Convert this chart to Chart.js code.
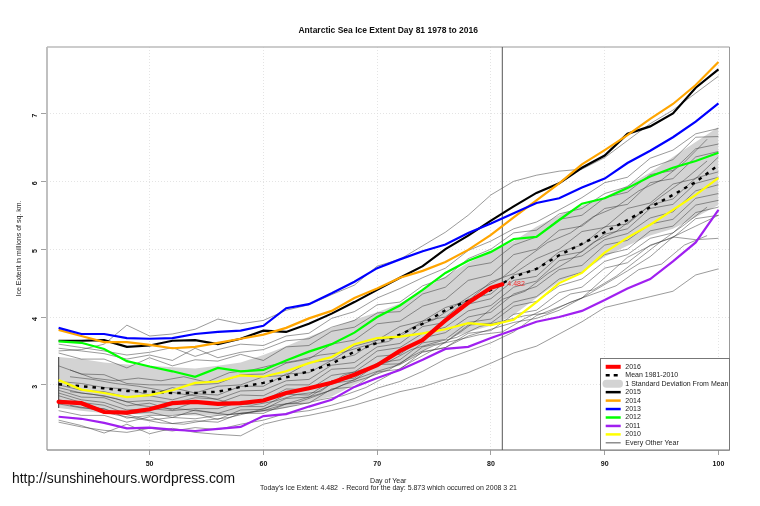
<!DOCTYPE html>
<html><head><meta charset="utf-8">
<style>html,body{margin:0;padding:0;background:#fff}#w{width:760px;height:506px}</style>
<script src="https://cdn.jsdelivr.net/npm/chart.js@4"></script>
</head><body><div id="w"><canvas id="c" width="760" height="506"></canvas></div>
<script>
const days=[42,44,46,48,50,52,54,56,58,60,62,64,66,68,70,72,74,76,78,80,82,84,86,88,90,92,94,96,98,100];
const oddDays=[43,45,47,49,51,53,55,57,59,61,63,65,67,69,71,73,75,77,79,81,83,85,87,89,91,93,95,97,99];
const days2016=[42,44,46,48,50,52,54,56,58,60,62,64,66,68,70,72,74,76,78,80,81];
const xTicks=[50,60,70,80,90,100], yTicks=[3,4,5,6,7];
const y2016=[2.75,2.73,2.60,2.59,2.64,2.73,2.75,2.72,2.73,2.77,2.88,2.95,3.03,3.15,3.29,3.50,3.66,3.95,4.21,4.43,4.482];
const meanLine=[3.01,2.98,2.95,2.91,2.90,2.88,2.88,2.90,2.97,3.03,3.11,3.20,3.31,3.49,3.62,3.74,3.90,4.10,4.24,4.40,4.59,4.71,4.91,5.08,5.25,5.43,5.62,5.80,5.99,6.24];
const bandUpper=[3.41,3.38,3.33,3.30,3.28,3.26,3.24,3.28,3.33,3.44,3.57,3.71,3.84,3.96,4.07,4.20,4.40,4.60,4.80,4.96,5.12,5.33,5.50,5.64,5.77,5.94,6.13,6.36,6.58,6.80];
const bandLower=[2.66,2.62,2.58,2.57,2.56,2.56,2.55,2.55,2.57,2.60,2.66,2.75,2.83,3.00,3.16,3.29,3.50,3.68,3.78,3.87,4.03,4.28,4.52,4.66,4.89,5.05,5.20,5.30,5.47,5.65];
const y2015=[3.65,3.65,3.66,3.56,3.58,3.65,3.66,3.60,3.68,3.80,3.78,3.90,4.05,4.22,4.40,4.58,4.75,5.00,5.20,5.42,5.63,5.83,5.97,6.20,6.38,6.70,6.81,7.00,7.38,7.65];
const y2014=[3.81,3.72,3.63,3.63,3.59,3.54,3.56,3.62,3.68,3.74,3.84,3.98,4.09,4.28,4.42,4.58,4.68,4.81,4.99,5.21,5.47,5.72,5.97,6.25,6.46,6.68,6.92,7.14,7.42,7.76];
const y2013=[3.84,3.75,3.75,3.69,3.68,3.69,3.75,3.78,3.80,3.87,4.13,4.19,4.35,4.52,4.72,4.85,4.97,5.07,5.24,5.38,5.53,5.68,5.75,5.91,6.04,6.27,6.45,6.65,6.88,7.15];
const y2012=[3.64,3.62,3.53,3.35,3.27,3.20,3.12,3.25,3.20,3.22,3.36,3.49,3.60,3.77,4.00,4.17,4.40,4.65,4.83,4.96,5.15,5.18,5.43,5.67,5.75,5.90,6.07,6.20,6.30,6.42];
const y2011=[2.53,2.50,2.44,2.36,2.37,2.34,2.32,2.35,2.38,2.54,2.57,2.68,2.78,2.97,3.10,3.22,3.37,3.53,3.56,3.69,3.81,3.93,4.00,4.09,4.25,4.42,4.56,4.82,5.10,5.58];
const y2010=[3.07,2.93,2.88,2.82,2.85,2.92,3.03,3.05,3.14,3.12,3.20,3.32,3.41,3.60,3.69,3.71,3.76,3.82,3.91,3.88,3.96,4.22,4.50,4.65,4.95,5.17,5.36,5.58,5.80,6.05];
const otherA=[3.50,3.52,3.60,3.88,3.72,3.75,3.82,3.97,3.90,3.95,4.10,4.18,4.33,4.47,4.75,4.85,5.05,5.25,5.50,5.80,6.00,6.09,6.15,6.18,6.35,6.60,6.85,7.05,7.30,7.55];
const otherB=[2.48,2.40,2.29,2.42,2.28,2.36,2.30,2.27,2.25,2.42,2.50,2.55,2.62,2.70,2.80,2.90,2.97,3.08,3.18,3.32,3.47,3.57,3.75,3.93,4.14,4.22,4.30,4.38,4.62,4.71];
const otherC=[2.45,2.38,2.33,2.30,2.36,2.32,2.37,2.34,2.42,2.48,2.58,2.62,2.70,2.80,2.95,3.05,3.20,3.38,3.50,3.62,3.78,4.02,4.15,4.28,4.48,4.68,4.89,5.18,5.14,5.16];
const otherD=[3.60,3.55,3.50,3.44,3.48,3.55,3.42,3.52,3.60,3.58,3.72,3.76,3.98,4.08,4.28,4.42,4.58,4.72,4.98,5.12,5.30,5.40,5.58,5.76,5.98,6.06,6.34,6.46,6.70,6.78];
const otherE=[3.54,3.50,3.46,3.38,3.44,3.36,3.54,3.40,3.48,3.52,3.65,3.68,3.85,3.95,4.18,4.22,4.46,4.58,4.86,5.00,5.24,5.28,5.52,5.60,5.82,5.92,6.20,6.32,6.65,6.66];
const otherF=[3.47,3.38,3.38,3.25,3.40,3.28,3.37,3.35,3.45,3.36,3.56,3.58,3.79,3.85,4.06,4.08,4.34,4.44,4.74,4.80,5.06,5.18,5.44,5.50,5.76,5.84,6.10,6.16,6.48,6.55];
const otherG=[3.28,3.16,3.15,3.02,3.00,3.00,3.00,3.02,3.15,3.16,3.32,3.38,3.60,3.66,3.90,3.94,4.16,4.26,4.54,4.62,4.92,5.00,5.28,5.34,5.60,5.66,5.98,6.04,6.36,6.44];
const otherH=[3.05,3.02,2.96,2.94,2.85,2.96,2.88,2.98,3.00,3.12,3.14,3.33,3.36,3.57,3.66,3.86,3.94,4.14,4.24,4.52,4.64,4.86,5.00,5.26,5.32,5.60,5.68,5.96,6.04,6.36];
const otherI=[3.00,2.92,2.90,2.82,2.84,2.78,2.87,2.85,2.98,2.98,3.16,3.18,3.36,3.44,3.66,3.71,3.94,4.00,4.26,4.34,4.62,4.70,4.96,5.06,5.33,5.37,5.65,5.74,6.05,6.14];
const otherJ=[2.96,2.88,2.84,2.75,2.77,2.73,2.81,2.79,2.91,2.92,3.06,3.08,3.29,3.33,3.56,3.61,3.86,3.92,4.19,4.27,4.54,4.60,4.90,4.96,5.22,5.30,5.60,5.66,5.97,6.06];
const otherK=[2.92,2.82,2.81,2.69,2.73,2.63,2.75,2.73,2.85,2.84,3.00,3.00,3.23,3.25,3.50,3.55,3.76,3.85,4.09,4.17,4.44,4.53,4.83,4.90,5.14,5.23,5.46,5.55,5.86,5.95];
const otherL=[2.88,2.78,2.74,2.63,2.65,2.62,2.65,2.65,2.75,2.76,2.94,2.93,3.14,3.19,3.42,3.45,3.69,3.77,4.00,4.07,4.34,4.45,4.70,4.76,5.06,5.13,5.37,5.44,5.75,5.82];
const otherM=[2.84,2.74,2.70,2.57,2.60,2.52,2.63,2.58,2.68,2.68,2.86,2.85,3.06,3.10,3.32,3.37,3.62,3.67,3.92,3.97,4.22,4.30,4.56,4.66,4.92,5.00,5.27,5.34,5.65,5.72];
const otherN=[2.62,2.55,2.55,2.45,2.53,2.43,2.47,2.45,2.58,2.58,2.72,2.73,2.94,2.97,3.19,3.23,3.49,3.55,3.76,3.80,4.04,4.10,4.36,4.44,4.72,4.80,5.06,5.17,5.45,5.50];
const otherO=[2.78,2.72,2.64,2.56,2.48,2.52,2.50,2.55,2.58,2.62,2.72,2.82,2.92,3.08,3.20,3.30,3.48,3.55,3.72,3.82,3.92,3.98,4.10,4.28,4.58,4.88,5.05,5.18,5.34,5.50];
const otherP=[2.72,2.66,2.65,2.51,2.55,2.55,2.58,2.49,2.63,2.64,2.80,2.82,3.02,3.07,3.30,3.31,3.56,3.63,3.88,3.91,4.16,4.23,4.46,4.56,4.82,4.92,5.16,5.24,5.54,5.62];
const otherQ=[3.12,3.08,3.02,2.98,2.92,2.86,2.82,2.74,2.70,2.76,2.86,2.90,3.14,3.24,3.34,3.52,3.62,3.70,3.86,3.94,4.02,4.06,4.22,4.34,4.46,4.70,4.78,5.06,5.20];
const otherR=[2.90,2.86,2.80,2.70,2.66,2.64,2.60,2.56,2.60,2.64,2.70,2.78,2.84,2.96,3.14,3.34,3.52,3.74,3.98,4.26,4.38,4.64,4.84,5.10,5.26,5.52,5.78,6.02,6.30];
const otherS=[3.22,3.10,3.06,3.10,3.06,3.12,3.04,3.18,3.22,3.30,3.36,3.44,3.48,3.58,3.64,3.84,3.96,4.18,4.40,4.58,4.86,5.10,5.24,5.48,5.62,5.86,6.02,6.28,6.62];
const otherT=[2.70,2.64,2.56,2.50,2.44,2.42,2.48,2.52,2.60,2.70,2.74,2.86,3.00,3.10,3.22,3.42,3.58,3.66,3.74,3.78,3.98,4.14,4.34,4.40,4.60,4.86,5.12,5.36,5.62];
const evenYears=[otherA,otherB,otherC,otherD,otherE,otherF,otherG,otherH,otherI,otherJ,otherK,otherL,otherM,otherN,otherO,otherP];
const oddYears=[otherQ,otherR,otherS,otherT];
const todayDay=81, todayExtent=4.482;
const xRange=[40.98,100.97], yRange=[2.04,7.98];
const titleText="Antarctic Sea Ice Extent Day 81 1978 to 2016";
const xTitle="Day of Year", yTitle="Ice Extent in millions of sq. km.";
const footer="Today's Ice Extent: 4.482  - Record for the day: 5.873 which occurred on 2008 3 21";
const siteText="http://sunshinehours.wordpress.com";
const legendLabels=["2016","Mean 1981-2010","1 Standard Deviation From Mean","2015","2014","2013","2012","2011","2010","Every Other Year"];
const legendColors=["#ff0000","#000000","#d3d3d3","#000000","#ffa500","#0000ff","#00ff00","#a020f0","#ffff00","#555555"];
const legendWidths=[4,2.5,8,2.5,2.5,2.5,2.5,2.5,2.5,1];

const pts=(xs,ys)=>ys.map((v,i)=>({x:xs[i],y:v}));
const line=(label,xs,ys,color,width,extra)=>Object.assign({type:'line',label,data:pts(xs,ys),borderColor:color,borderWidth:width,pointRadius:0,tension:0,fill:false},extra||{});
const FONT='"Liberation Sans",Arial,sans-serif';

const datasets=[
 line("2016",days2016,y2016,"#ff0000",4.2,{borderCapStyle:'round'}),
 line("2010",days,y2010,"#ffff00",2.2),
 line("2011",days,y2011,"#a020f0",2.2),
 line("2012",days,y2012,"#00ff00",2.2),
 line("2013",days,y2013,"#0000ff",2.2),
 line("2014",days,y2014,"#ffa500",2.2),
 line("2015",days,y2015,"#000000",2.2),
 line("Mean 1981-2010",days,meanLine,"#000000",2.4,{borderDash:[3.5,5]}),
 line("Day marker",[todayDay,todayDay],yRange,"#555555",1),
];
evenYears.forEach(s=>datasets.push(line("Every Other Year",days,s,"rgba(50,50,50,0.7)",0.7)));
oddYears.forEach(s=>datasets.push(line("Every Other Year",oddDays,s,"rgba(50,50,50,0.7)",0.7)));
datasets.push(line("Band edge",[days[0],days[0]],[bandUpper[0],bandLower[0]],"#555555",0.8));
datasets.push(line("1 Standard Deviation From Mean",days,bandUpper,"rgba(0,0,0,0)",0,{fill:'+1',backgroundColor:"#d3d3d3"}));
datasets.push(line("Band lower",days,bandLower,"rgba(0,0,0,0)",0));

const decor={id:'decor',
 beforeDatasetsDraw(ch){
  const a=ch.chartArea,c=ch.ctx;c.save();
  c.lineWidth=2;c.strokeStyle="#c0c0c0";c.beginPath();c.moveTo(a.left,a.top);c.lineTo(a.left,a.bottom);c.stroke();
  c.lineWidth=1.5;c.strokeStyle="#bbbbbb";c.beginPath();c.moveTo(a.left,a.top);c.lineTo(a.right,a.top);c.stroke();
  c.lineWidth=1;c.strokeStyle="#999999";c.beginPath();c.moveTo(a.right,a.top);c.lineTo(a.right,a.bottom);c.stroke();
  c.lineWidth=1.5;c.beginPath();c.moveTo(a.left,a.bottom);c.lineTo(a.right,a.bottom);c.stroke();
  c.restore();
 },
 afterDraw(ch){
  const a=ch.chartArea,c=ch.ctx,sx=ch.scales.x,sy=ch.scales.y;c.save();
  c.fillStyle="rgba(255,0,0,0.8)";c.font='7px '+FONT;c.textAlign='left';c.textBaseline='middle';
  c.fillText(String(todayExtent),sx.getPixelForValue(todayDay)+5,sy.getPixelForValue(todayExtent));
  const L=600.5,T=358.5,R=a.right,B=a.bottom;
  c.fillStyle="#fff";c.fillRect(L,T,R-L,B-T);
  c.strokeStyle="#777";c.lineWidth=1;c.strokeRect(L,T,R-L,B-T);
  legendLabels.forEach((t,i)=>{
   const y=366.8+i*8.45;
   c.beginPath();c.strokeStyle=legendColors[i];c.lineWidth=legendWidths[i];
   if(i===1)c.setLineDash([4,4]);else c.setLineDash([]);
   c.lineCap=i===2?'round':'butt';
   c.moveTo(i===2?606.5:605.7,y);c.lineTo(i===2?619:620.7,y);c.stroke();
   c.fillStyle="#222";c.font='7px '+FONT;c.textAlign='left';c.textBaseline='middle';
   c.fillText(t,625.3,y);
  });
  c.setLineDash([]);
  c.fillStyle="#222";c.font='7px '+FONT;c.textAlign='center';c.textBaseline='middle';
  c.fillText(footer,388.5,488.5);
  c.fillStyle="#111";c.font='13.9px '+FONT;c.textAlign='left';
  c.fillText(siteText,12,479);
  c.restore();
 }};

new Chart(document.getElementById('c'),{
 type:'line',
 data:{datasets},
 plugins:[decor],
 options:{
  responsive:false,animation:false,devicePixelRatio:1,
  parsing:false,normalized:true,
  layout:{padding:{left:0,right:30.5,top:0,bottom:0}},
  plugins:{
   legend:{display:false},tooltip:{enabled:false},
   title:{display:true,text:titleText,fullSize:false,color:'#111',font:{family:FONT,size:8.5,weight:'bold',lineHeight:1.2},padding:{top:26,bottom:10.8}}
  },
  scales:{
   x:{type:'linear',min:xRange[0],max:xRange[1],
    afterFit(s){s.height=56;},
    afterBuildTicks(s){s.ticks=xTicks.map(v=>({value:v}));},
    grid:{color:'#dddddd',lineWidth:0.8,drawTicks:true,tickLength:5,tickColor:'#888888',tickBorderDash:[]},
    border:{display:false,dash:[1,2]},
    ticks:{maxRotation:0,autoSkip:false,color:'#111',padding:5,font:{family:FONT,size:7,weight:'bold'},callback:v=>String(v)},
    title:{display:true,text:xTitle,color:'#222',font:{family:FONT,size:7},padding:{top:0,bottom:20.5}}
   },
   y:{type:'linear',min:yRange[0],max:yRange[1],
    afterFit(s){s.width=47;},
    afterBuildTicks(s){s.ticks=yTicks.map(v=>({value:v}));},
    grid:{color:'#dddddd',lineWidth:0.8,drawTicks:true,tickLength:6,tickColor:'#888888',tickBorderDash:[]},
    border:{display:false,dash:[1,2]},
    ticks:{minRotation:90,maxRotation:90,autoSkip:false,color:'#111',padding:6,font:{family:FONT,size:7,weight:'bold'},callback:v=>String(v)},
    title:{display:true,text:yTitle,color:'#222',font:{family:FONT,size:7},padding:{top:15,bottom:0}}
   }
  }
 }
});
</script></body></html>
